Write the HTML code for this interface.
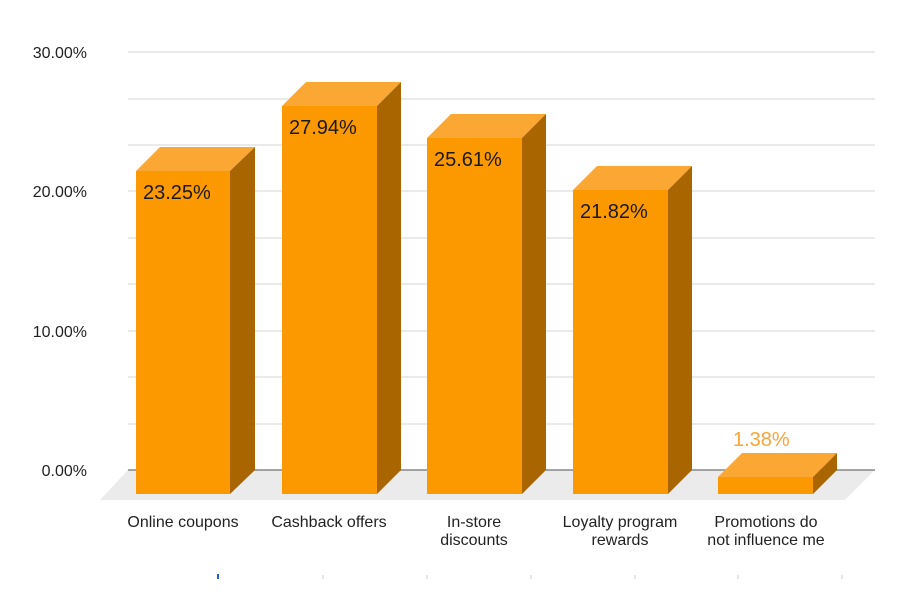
<!DOCTYPE html>
<html><head><meta charset="utf-8"><style>body{margin:0;background:#fff}</style></head><body>
<svg width="900" height="600" xmlns="http://www.w3.org/2000/svg" font-family="Liberation Sans, sans-serif">
<rect width="900" height="600" fill="#fff"/>
<g stroke="#e4e4e4" stroke-width="1.5">
<line x1="128" x2="875" y1="52" y2="52"/><line x1="128" x2="875" y1="99" y2="99"/>
<line x1="128" x2="875" y1="145" y2="145"/><line x1="128" x2="875" y1="191" y2="191"/>
<line x1="128" x2="875" y1="238" y2="238"/><line x1="128" x2="875" y1="284" y2="284"/>
<line x1="128" x2="875" y1="331" y2="331"/><line x1="128" x2="875" y1="377" y2="377"/>
<line x1="128" x2="875" y1="424" y2="424"/>
</g>
<polygon points="128,470 875,470 845,500 100,500" fill="#ebebeb"/>
<line x1="128" x2="875" y1="470" y2="470" stroke="#888" stroke-width="1.5"/>
<g font-size="16" fill="#222" text-anchor="end">
<text x="87" y="58">30.00%</text><text x="87" y="197">20.00%</text>
<text x="87" y="337">10.00%</text><text x="87" y="476">0.00%</text>
</g>
<g>
<!-- bar template: front x,w=95, top t, bottom 494, depth 24 -->
<polygon points="136,171 160,147 255,147 230,171" fill="#fba733"/>
<polygon points="230,171 255,147 255,470 230,494" fill="#a86500"/>
<rect x="136" y="171" width="94" height="323" fill="#fd9900"/>
<polygon points="282,106 306,82 401,82 377,106" fill="#fba733"/>
<polygon points="377,106 401,82 401,470 377,494" fill="#a86500"/>
<rect x="282" y="106" width="95" height="388" fill="#fd9900"/>
<polygon points="427,138 451,114 546,114 522,138" fill="#fba733"/>
<polygon points="522,138 546,114 546,470 522,494" fill="#a86500"/>
<rect x="427" y="138" width="95" height="356" fill="#fd9900"/>
<polygon points="573,190 597,166 692,166 668,190" fill="#fba733"/>
<polygon points="668,190 692,166 692,470 668,494" fill="#a86500"/>
<rect x="573" y="190" width="95" height="304" fill="#fd9900"/>
<polygon points="718,477 742,453 837,453 813,477" fill="#fba733"/>
<polygon points="813,477 837,453 837,470 813,494" fill="#a86500"/>
<rect x="718" y="477" width="95" height="17" fill="#fd9900"/>
</g>
<g font-size="20" fill="#1a1a1a">
<text x="143" y="199">23.25%</text><text x="289" y="134">27.94%</text>
<text x="434" y="166">25.61%</text><text x="580" y="218">21.82%</text>
<text x="733" y="446" fill="#fca338">1.38%</text>
</g>
<g font-size="16" fill="#222" text-anchor="middle">
<text x="183" y="527">Online coupons</text>
<text x="329" y="527">Cashback offers</text>
<text x="474" y="527">In-store</text><text x="474" y="545">discounts</text>
<text x="620" y="527">Loyalty program</text><text x="620" y="545">rewards</text>
<text x="766" y="527">Promotions do</text><text x="766" y="545">not influence me</text>
</g>
<line x1="218" x2="218" y1="574" y2="579" stroke="#2a5bd7" stroke-width="2"/>
<g stroke="#ccc" stroke-width="1">
<line x1="323" x2="323" y1="575" y2="579"/><line x1="427" x2="427" y1="575" y2="579"/>
<line x1="531" x2="531" y1="575" y2="579"/><line x1="635" x2="635" y1="575" y2="579"/>
<line x1="738" x2="738" y1="575" y2="579"/><line x1="842" x2="842" y1="575" y2="579"/>
</g>
</svg>
</body></html>
